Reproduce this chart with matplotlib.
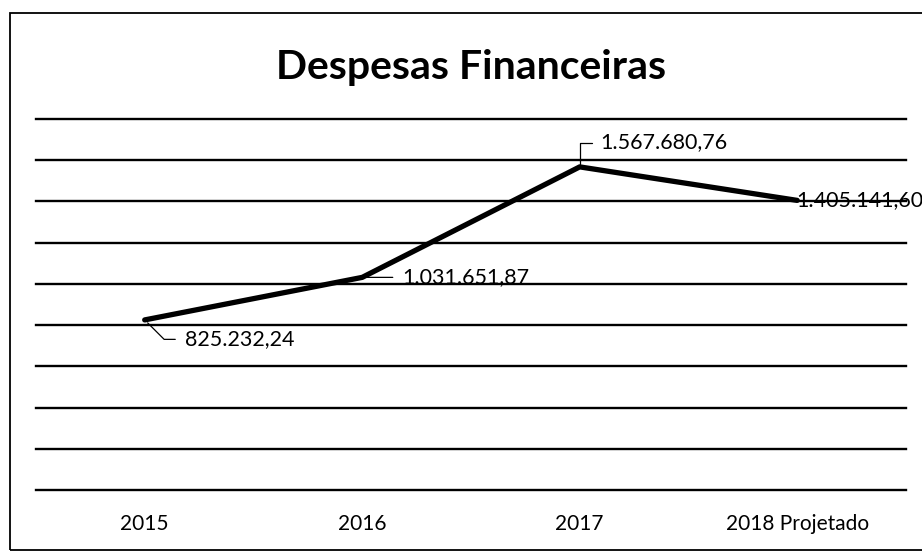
import matplotlib
matplotlib.use("Agg")
import matplotlib.pyplot as plt
from matplotlib.patches import Rectangle

# dados do gráfico
anos = ["2015", "2016", "2017", "2018 Projetado"]
despesas = [825232.24, 1031651.87, 1567680.76, 1405141.60]
rotulos = ["825.232,24", "1.031.651,87", "1.567.680,76", "1.405.141,60"]

plt.rcParams['font.family'] = ['Lato', 'DejaVu Sans']

fig = plt.figure(figsize=(9.22, 5.54), dpi=100)
ax = fig.add_axes([0.039, 0.1155, 0.9436, 0.6697])

# moldura externa do gráfico (cortada à direita, como no original)
fig.patches.append(Rectangle((0.0108, 0.0072), 1.2, 0.9693, transform=fig.transFigure,
                             fill=False, edgecolor='black', linewidth=1.3))

x = list(range(len(anos)))
ax.plot(x, despesas, color='black', linewidth=3.8, solid_capstyle='round', zorder=3)

ax.set_xlim(-0.5, len(anos) - 0.5)
ax.set_ylim(0, 1800000)
ax.set_yticks(range(0, 1800001, 200000))
ax.set_yticklabels([])
ax.grid(axis='y', color='black', linewidth=1.7)
ax.set_axisbelow(True)
for gl in ax.get_ygridlines():
    gl.set_clip_on(False)
for s in ax.spines.values():
    s.set_visible(False)
ax.tick_params(left=False, bottom=False, pad=14)
ax.set_xticks(x)
ax.set_xticklabels(anos, fontsize=15)

# rótulos de dados com linhas de chamada
leader = dict(arrowstyle='-', color='black', linewidth=0.9, relpos=(0, 0.5))
ax.annotate(rotulos[0], (x[0], despesas[0]), xytext=(29, -14), textcoords='offset points',
            fontsize=15.5, va='center', ha='left',
            arrowprops=dict(leader, connectionstyle='angle,angleA=0,angleB=-45', shrinkA=5, shrinkB=3))
ax.annotate(rotulos[1], (x[1], despesas[1]), xytext=(29, 0), textcoords='offset points',
            fontsize=15.5, va='center', ha='left',
            arrowprops=dict(leader, shrinkA=5, shrinkB=1))
ax.annotate(rotulos[2], (x[2], despesas[2]), xytext=(14.5, 17.5), textcoords='offset points',
            fontsize=15.5, va='center', ha='left',
            arrowprops=dict(leader, connectionstyle='angle,angleA=0,angleB=90', shrinkA=4, shrinkB=2))
ax.annotate(rotulos[3], (x[3], despesas[3]), xytext=(-1, 0), textcoords='offset points',
            fontsize=15.5, va='center', ha='left', annotation_clip=False)

fig.text(0.511, 1 - 68 / 554, "Despesas Financeiras", fontsize=29.5, fontweight='bold',
         ha='center', va='center')

fig.savefig("out.png", dpi=100)
